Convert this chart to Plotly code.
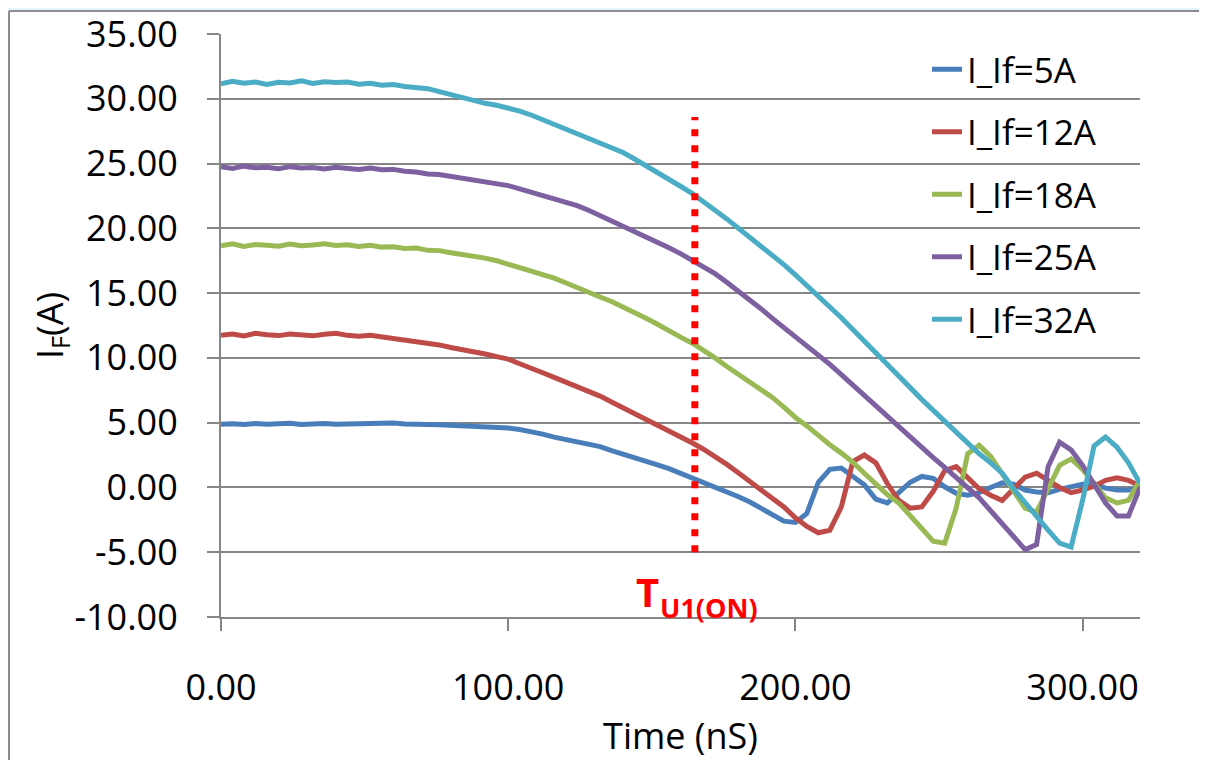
import plotly.graph_objects as go

# ---------------- data ----------------
time_ns = list(range(0, 321, 4))

i_if_5a = [4.88, 4.92, 4.85, 4.93, 4.87, 4.90, 4.95, 4.86, 4.91, 4.94, 4.88, 4.90, 4.96, 4.89, 4.93, 4.97,
           4.90, 4.92, 4.86, 4.84, 4.80, 4.78, 4.74, 4.70, 4.66, 4.58, 4.47, 4.34, 4.12, 3.88, 3.70, 3.52,
           3.35, 3.15, 2.85, 2.60, 2.35, 2.05, 1.75, 1.45, 1.10, 0.75, 0.45, 0.10, -0.25, -0.70, -1.10, -1.60,
           -2.15, -2.60, -2.70, -2.00, 0.40, 1.40, 1.50, 0.90, 0.20, -0.90, -1.20, -0.40, 0.40, 0.85, 0.70, 0.05,
           -0.45, -0.60, -0.40, 0.00, 0.35, 0.25, -0.20, -0.35, -0.40, -0.15, 0.10, 0.25, 0.30, -0.05, -0.20, -0.20,
           0.00]

i_if_12a = [11.75, 11.85, 11.70, 11.90, 11.78, 11.72, 11.85, 11.76, 11.70, 11.82, 11.90, 11.74, 11.68, 11.75, 11.62, 11.58,
            11.45, 11.25, 11.15, 11.00, 10.80, 10.65, 10.50, 10.30, 10.10, 9.90, 9.55, 9.25, 8.85, 8.50, 8.15, 7.75,
            7.35, 7.05, 6.60, 6.15, 5.70, 5.25, 4.85, 4.40, 4.00, 3.45, 2.95, 2.40, 1.80, 1.15, 0.50, -0.15,
            -0.75, -1.50, -2.35, -3.00, -3.50, -3.30, -1.50, 2.00, 2.50, 1.90, 0.30, -1.00, -1.60, -1.50, -0.30, 1.30,
            1.60, 0.80, -0.10, -0.60, -1.00, -0.10, 0.80, 1.10, 0.50, 0.00, -0.40, -0.20, 0.10, 0.55, 0.75, 0.55,
            0.10]

i_if_18a = [18.65, 18.80, 18.60, 18.75, 18.70, 18.62, 18.78, 18.66, 18.72, 18.80, 18.68, 18.74, 18.60, 18.70, 18.55, 18.58,
            18.45, 18.48, 18.30, 18.28, 18.12, 18.00, 17.85, 17.70, 17.50, 17.25, 17.00, 16.75, 16.45, 16.15, 15.80, 15.40,
            15.05, 14.70, 14.35, 13.95, 13.50, 13.05, 12.60, 12.05, 11.60, 11.15, 10.60, 10.00, 9.35, 8.75, 8.15, 7.60,
            6.95, 6.20, 5.40, 4.75, 4.00, 3.30, 2.65, 1.95, 1.10, 0.25, -0.55, -1.20, -2.20, -3.20, -4.15, -4.30,
            -1.60, 2.60, 3.25, 2.40, 1.10, -0.15, -1.60, -1.90, -0.20, 1.70, 2.20, 1.40, 0.30, -0.80, -1.20, -1.00,
            0.60]

i_if_25a = [24.75, 24.62, 24.80, 24.68, 24.72, 24.60, 24.76, 24.65, 24.70, 24.58, 24.72, 24.62, 24.55, 24.66, 24.52, 24.55,
            24.40, 24.35, 24.20, 24.15, 24.02, 23.88, 23.78, 23.60, 23.45, 23.30, 23.05, 22.80, 22.55, 22.28, 22.05, 21.75,
            21.40, 21.00, 20.55, 20.15, 19.80, 19.40, 18.95, 18.50, 18.05, 17.55, 17.05, 16.50, 15.85, 15.20, 14.50, 13.80,
            13.05, 12.35, 11.60, 10.90, 10.20, 9.50, 8.70, 7.90, 7.10, 6.30, 5.50, 4.65, 3.80, 3.00, 2.30, 1.55,
            0.75, -0.10, -0.80, -1.80, -2.80, -3.90, -4.80, -4.40, 1.60, 3.50, 2.90, 1.70, 0.20, -1.20, -2.20, -2.20,
            0.00]

i_if_32a = [31.15, 31.35, 31.20, 31.30, 31.10, 31.28, 31.22, 31.38, 31.18, 31.32, 31.25, 31.30, 31.12, 31.20, 31.05, 31.10,
            30.95, 30.85, 30.78, 30.55, 30.30, 30.10, 29.85, 29.65, 29.50, 29.30, 29.05, 28.75, 28.40, 28.05, 27.70, 27.30,
            26.95, 26.60, 26.25, 25.85, 25.35, 24.85, 24.30, 23.80, 23.25, 22.70, 22.10, 21.40, 20.75, 20.05, 19.35, 18.65,
            17.95, 17.20, 16.40, 15.60, 14.80, 13.95, 13.10, 12.20, 11.30, 10.35, 9.40, 8.50, 7.65, 6.80, 5.95, 5.10,
            4.25, 3.40, 2.60, 1.90, 1.10, -0.10, -1.20, -2.20, -3.30, -4.30, -4.60, -1.00, 3.20, 3.90, 3.10, 1.90,
            0.30]

series_names = ["I_If=5A", "I_If=12A", "I_If=18A", "I_If=25A", "I_If=32A"]
series_values = [i_if_5a, i_if_12a, i_if_18a, i_if_25a, i_if_32a]
series_colors = ["#4A7EBB", "#BE4B48", "#98B954", "#7D60A0", "#4BACC6"]

marker_time = [165, 165]
marker_current = [-5, 28.6]

x_ticks = [0, 100, 200, 300]
x_tick_labels = ["0.00", "100.00", "200.00", "300.00"]
y_ticks = [-10, -5, 0, 5, 10, 15, 20, 25, 30, 35]
y_tick_labels = ["-10.00", "-5.00", "0.00", "5.00", "10.00", "15.00", "20.00", "25.00", "30.00", "35.00"]

FONT = "Open Sans"
GRID = "#868686"
PAGE = "#E4F6FA"

OFF = 8                                 # body margin in page pixels
W, H = 1207, 760
L, T = 221 - OFF, 34 - OFF
R = (OFF + W) - 1140
B = (OFF + H) - 617
PW, PH = W - L - R, H - T - B


def px_x(page_x):
    return (page_x - OFF - L) / PW


def px_y(page_y):
    return ((OFF + H - B) - page_y) / PH


fig = go.Figure()
for i, (name, vals, col) in enumerate(zip(series_names, series_values, series_colors)):
    fig.add_trace(go.Scatter(x=time_ns, y=vals, mode="lines", name=name,
                             legendgroup=f"g{i}",
                             line=dict(color=col, width=5)))

fig.add_trace(go.Scatter(x=marker_time, y=marker_current, mode="lines", showlegend=False,
                         line=dict(color="#FF0000", width=7, dash="7px,9px"), hoverinfo="skip"))

# light-cyan page strips outside the chart card, and the card's grey left/top border
fig.add_shape(type="rect", xref="paper", yref="paper",
              x0=px_x(0), x1=px_x(9), y0=px_y(900), y1=px_y(0),
              line=dict(width=0), fillcolor=PAGE, layer="below")
fig.add_shape(type="rect", xref="paper", yref="paper",
              x0=px_x(0), x1=px_x(1300), y0=px_y(11), y1=px_y(0),
              line=dict(width=0), fillcolor=PAGE, layer="below")
fig.add_shape(type="line", xref="paper", yref="paper",
              x0=px_x(9), x1=px_x(9), y0=px_y(900), y1=px_y(11),
              line=dict(color="#8C8C8C", width=2), layer="below")
fig.add_shape(type="line", xref="paper", yref="paper",
              x0=px_x(9), x1=px_x(1300), y0=px_y(11), y1=px_y(11),
              line=dict(color="#8C8C8C", width=2), layer="below")

fig.add_annotation(x=148.5, y=-8.0, xref="x", yref="y", text="<b>T</b>", showarrow=False,
                   font=dict(family=FONT, size=40, color="#FF0000"))
fig.add_annotation(x=170, y=-9.3, xref="x", yref="y", text="<b>U1(ON)</b>", showarrow=False,
                   font=dict(family=FONT, size=27, color="#FF0000"))

fig.update_layout(
    width=W, height=H,
    margin=dict(l=L, r=R, t=T, b=B, autoexpand=False),
    paper_bgcolor="white", plot_bgcolor="white",
    font=dict(family=FONT, size=36, color="black"),
    showlegend=True,
    legend=dict(x=px_x(927), y=px_y(40), xanchor="left", yanchor="top",
                bgcolor="rgba(0,0,0,0)", font=dict(family=FONT, size=35),
                tracegroupgap=14),
    xaxis=dict(range=[0, 320], tickvals=x_ticks, ticktext=x_tick_labels, automargin=False,
               showgrid=False, zeroline=False, showline=True, linecolor=GRID, linewidth=2,
               ticks="outside", ticklen=12, tickwidth=2, tickcolor=GRID,
               ticklabelstandoff=26,
               title=dict(text="Time (nS)", font=dict(size=36), standoff=6)),
    yaxis=dict(range=[-10, 35], tickvals=y_ticks, ticktext=y_tick_labels, automargin=False,
               showgrid=True, gridcolor=GRID, gridwidth=2, zeroline=False,
               showline=True, linecolor=GRID, linewidth=2,
               ticks="outside", ticklen=12, tickwidth=2, tickcolor=GRID,
               ticklabelstandoff=22,
               title=dict(text="I<sub>F</sub>(A)", font=dict(size=36), standoff=0)),
)

fig.write_html("out.html")
